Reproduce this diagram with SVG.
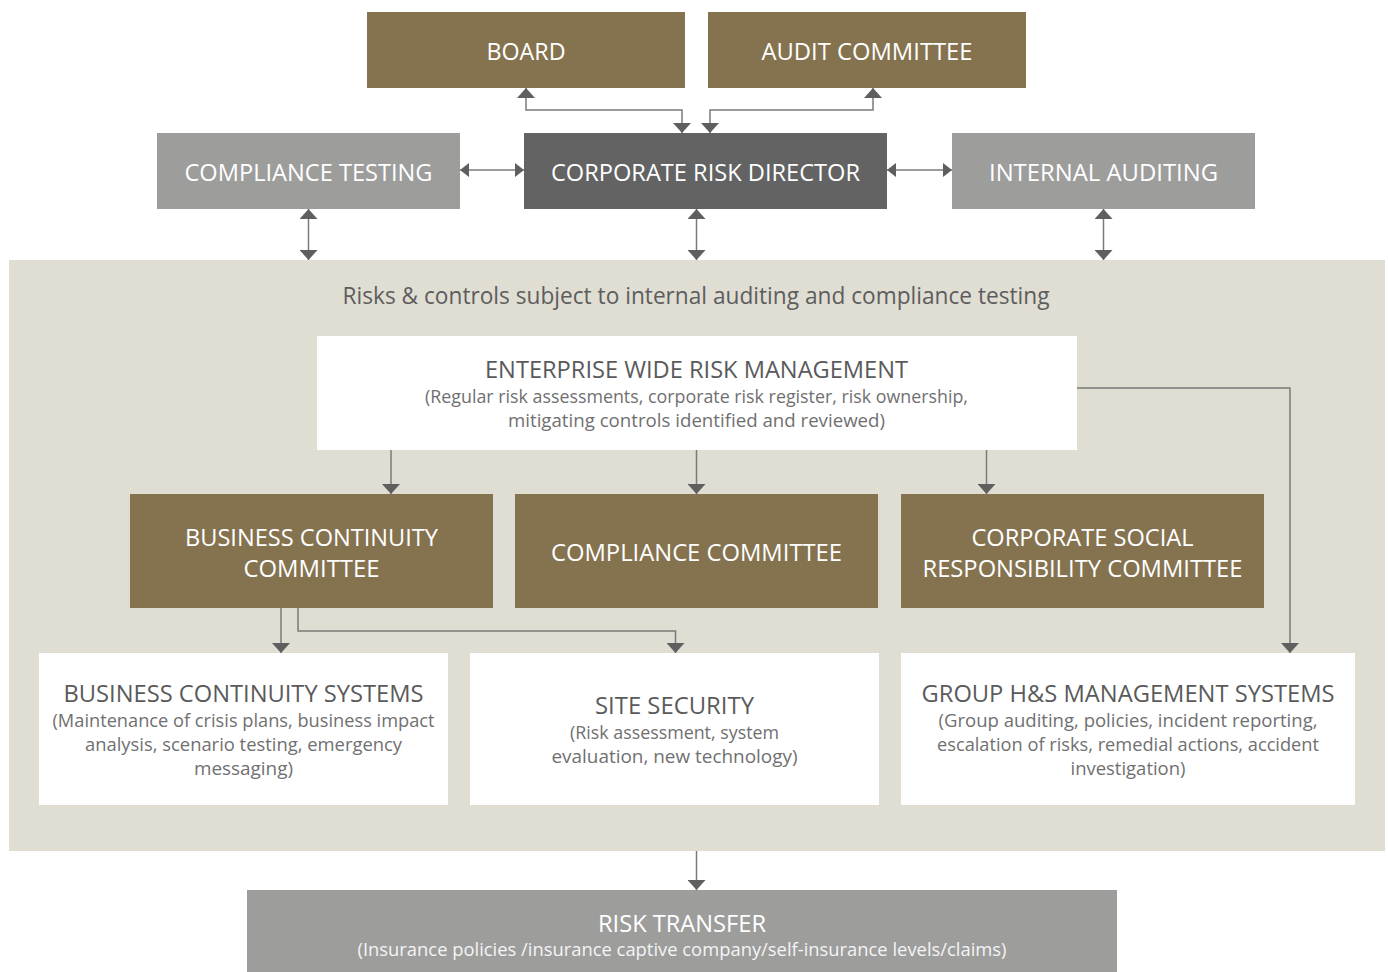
<svg xmlns="http://www.w3.org/2000/svg" width="1388" height="972" viewBox="0 0 1388 972">
  <style>
    .olive { fill: #857350; }
    .grey { fill: #9d9d9c; }
    .dark { fill: #636363; }
    .white { fill: #ffffff; }
    .panel { fill: #e0ddd3; }
    text { font-family: "Open Sans", "Noto Sans", "Liberation Sans", sans-serif; text-anchor: middle; }
    .t { font-size: 24px; }
    .onfill { fill: #ffffff; }
    .head { fill: #5a5a5b; }
    .sub { font-size: 17.5px; fill: #707071; }
    .subw { font-size: 17.5px; fill: #f4f4f4; }
    .cap { font-size: 23px; fill: #5d5d5e; }
    .link { fill: none; stroke: #7a7a7a; stroke-width: 1.5; }
  </style>
  <defs>
    <marker id="headV" viewBox="0 0 10 18" refX="10" refY="9" markerWidth="10" markerHeight="18" markerUnits="userSpaceOnUse" orient="auto-start-reverse">
      <path d="M0,0 L10,9 L0,18 Z" fill="#5f5f5f"/>
    </marker>
    <marker id="headH" viewBox="0 0 9 14" refX="9" refY="7" markerWidth="9" markerHeight="14" markerUnits="userSpaceOnUse" orient="auto-start-reverse">
      <path d="M0,0 L9,7 L0,14 Z" fill="#5f5f5f"/>
    </marker>
  </defs>

  <!-- shared area for everything under audit -->
  <g id="risk-area">
    <rect class="panel" x="9" y="260" width="1376" height="591"/>
    <text class="cap" x="696" y="303.5" textLength="707" lengthAdjust="spacingAndGlyphs">Risks &amp; controls subject to internal auditing and compliance testing</text>
  </g>

  <!-- connectors -->
  <g id="connectors">
    <path class="link" d="M526,88 V110 H682 V133" marker-start="url(#headV)" marker-end="url(#headV)"/>
    <path class="link" d="M873,88 V110 H710 V133" marker-start="url(#headV)" marker-end="url(#headV)"/>
    <path class="link" d="M460,170 H524" marker-start="url(#headH)" marker-end="url(#headH)"/>
    <path class="link" d="M887,170 H952" marker-start="url(#headH)" marker-end="url(#headH)"/>
    <path class="link" d="M308.5,209 V260" marker-start="url(#headV)" marker-end="url(#headV)"/>
    <path class="link" d="M696.5,209 V260" marker-start="url(#headV)" marker-end="url(#headV)"/>
    <path class="link" d="M1103.5,209 V260" marker-start="url(#headV)" marker-end="url(#headV)"/>
    <path class="link" d="M391,450 V494" marker-end="url(#headV)"/>
    <path class="link" d="M696.5,450 V494" marker-end="url(#headV)"/>
    <path class="link" d="M986.5,450 V494" marker-end="url(#headV)"/>
    <path class="link" d="M1077,388 H1290 V653" marker-end="url(#headV)"/>
    <path class="link" d="M281,608 V653" marker-end="url(#headV)"/>
    <path class="link" d="M298,608 V631 H675.5 V653" marker-end="url(#headV)"/>
    <path class="link" d="M696.5,851 V890" marker-end="url(#headV)"/>
  </g>

  <g id="board">
    <rect class="olive" x="367" y="12" width="318" height="76"/>
    <text class="t onfill" x="526" y="59.5" textLength="79" lengthAdjust="spacingAndGlyphs">BOARD</text>
  </g>
  <g id="audit-committee">
    <rect class="olive" x="708" y="12" width="318" height="76"/>
    <text class="t onfill" x="867" y="59.5" textLength="211" lengthAdjust="spacingAndGlyphs">AUDIT COMMITTEE</text>
  </g>

  <g id="compliance-testing">
    <rect class="grey" x="157" y="133" width="303" height="76"/>
    <text class="t onfill" x="308.5" y="180.5" textLength="248" lengthAdjust="spacingAndGlyphs">COMPLIANCE TESTING</text>
  </g>
  <g id="corporate-risk-director">
    <rect class="dark" x="524" y="133" width="363" height="76"/>
    <text class="t onfill" x="705.5" y="180.5" textLength="309" lengthAdjust="spacingAndGlyphs">CORPORATE RISK DIRECTOR</text>
  </g>
  <g id="internal-auditing">
    <rect class="grey" x="952" y="133" width="303" height="76"/>
    <text class="t onfill" x="1103.5" y="180.5" textLength="229" lengthAdjust="spacingAndGlyphs">INTERNAL AUDITING</text>
  </g>

  <g id="enterprise-risk">
    <rect class="white" x="317" y="336" width="760" height="114"/>
    <text class="t head" x="696.5" y="378" textLength="423" lengthAdjust="spacingAndGlyphs">ENTERPRISE WIDE RISK MANAGEMENT</text>
    <text class="sub" x="696.5" y="403" textLength="543" lengthAdjust="spacingAndGlyphs">(Regular risk assessments, corporate risk register, risk ownership,</text>
    <text class="sub" x="696.5" y="427" textLength="377" lengthAdjust="spacingAndGlyphs">mitigating controls identified and reviewed)</text>
  </g>

  <g id="business-continuity-committee">
    <rect class="olive" x="130" y="494" width="363" height="114"/>
    <text class="t onfill" x="311.5" y="546" textLength="253" lengthAdjust="spacingAndGlyphs">BUSINESS CONTINUITY</text>
    <text class="t onfill" x="311.5" y="577" textLength="136" lengthAdjust="spacingAndGlyphs">COMMITTEE</text>
  </g>
  <g id="compliance-committee">
    <rect class="olive" x="515" y="494" width="363" height="114"/>
    <text class="t onfill" x="696.5" y="561" textLength="291" lengthAdjust="spacingAndGlyphs">COMPLIANCE COMMITTEE</text>
  </g>
  <g id="csr-committee">
    <rect class="olive" x="901" y="494" width="363" height="114"/>
    <text class="t onfill" x="1082.5" y="546" textLength="222" lengthAdjust="spacingAndGlyphs">CORPORATE SOCIAL</text>
    <text class="t onfill" x="1082.5" y="577" textLength="320" lengthAdjust="spacingAndGlyphs">RESPONSIBILITY COMMITTEE</text>
  </g>

  <g id="business-continuity-systems">
    <rect class="white" x="39" y="653" width="409" height="152"/>
    <text class="t head" x="243.5" y="702" textLength="360" lengthAdjust="spacingAndGlyphs">BUSINESS CONTINUITY SYSTEMS</text>
    <text class="sub" x="243.5" y="727" textLength="382" lengthAdjust="spacingAndGlyphs">(Maintenance of crisis plans, business impact</text>
    <text class="sub" x="243.5" y="751" textLength="317" lengthAdjust="spacingAndGlyphs">analysis, scenario testing, emergency</text>
    <text class="sub" x="243.5" y="775" textLength="99" lengthAdjust="spacingAndGlyphs">messaging)</text>
  </g>
  <g id="site-security">
    <rect class="white" x="470" y="653" width="409" height="152"/>
    <text class="t head" x="674.5" y="714" textLength="159" lengthAdjust="spacingAndGlyphs">SITE SECURITY</text>
    <text class="sub" x="674.5" y="739" textLength="209" lengthAdjust="spacingAndGlyphs">(Risk assessment, system</text>
    <text class="sub" x="674.5" y="763" textLength="246" lengthAdjust="spacingAndGlyphs">evaluation, new technology)</text>
  </g>
  <g id="group-hs-systems">
    <rect class="white" x="901" y="653" width="454" height="152"/>
    <text class="t head" x="1128" y="702" textLength="413" lengthAdjust="spacingAndGlyphs">GROUP H&amp;S MANAGEMENT SYSTEMS</text>
    <text class="sub" x="1128" y="727" textLength="379" lengthAdjust="spacingAndGlyphs">(Group auditing, policies, incident reporting,</text>
    <text class="sub" x="1128" y="751" textLength="382" lengthAdjust="spacingAndGlyphs">escalation of risks, remedial actions, accident</text>
    <text class="sub" x="1128" y="775" textLength="115" lengthAdjust="spacingAndGlyphs">investigation)</text>
  </g>

  <g id="risk-transfer">
    <rect class="grey" x="247" y="890" width="870" height="82"/>
    <text class="t onfill" x="682" y="932" textLength="168" lengthAdjust="spacingAndGlyphs">RISK TRANSFER</text>
    <text class="subw" x="682" y="956" textLength="649" lengthAdjust="spacingAndGlyphs">(Insurance policies /insurance captive company/self-insurance levels/claims)</text>
  </g>
</svg>
